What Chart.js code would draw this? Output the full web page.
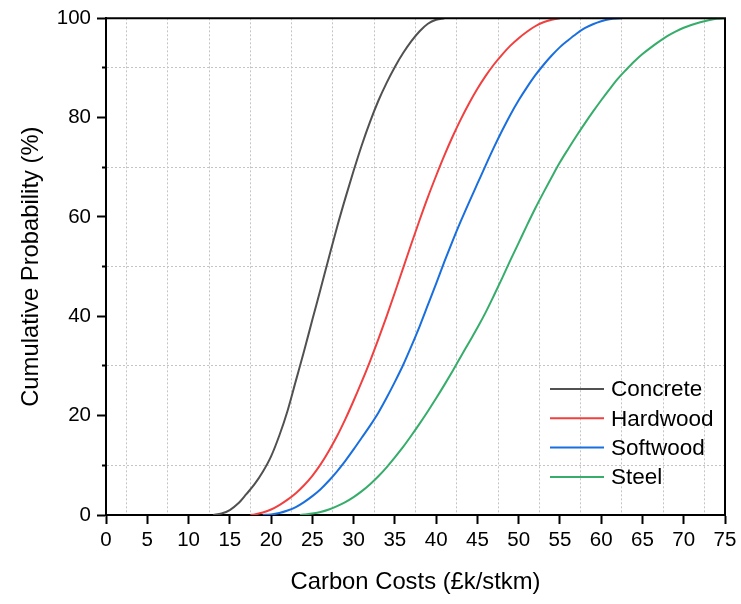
<!DOCTYPE html>
<html>
<head>
<meta charset="utf-8">
<script src="https://cdn.jsdelivr.net/npm/chart.js@4/dist/chart.umd.min.js"></script>
<style>
  html, body { margin: 0; padding: 0; background: #fff; }
  #wrap { width: 741px; height: 604px; }
</style>
</head>
<body>
<div id="wrap"><canvas id="cdfChart" width="741" height="604"></canvas></div>
<script>
// 累積機率曲線 (Carbon Costs, £k/stkm)
const seriesNames = ['Concrete', 'Hardwood', 'Softwood', 'Steel'];
const seriesColors = ['#515151', '#F14040', '#1A6FDF', '#37AD6B'];

const concreteCost = [13, 14, 15, 16, 17, 18, 19, 20, 21, 22, 23, 24, 25, 26, 27, 28, 29, 30, 31, 32, 33, 34, 35, 36, 37, 38, 39, 40, 41];
const concreteProb = [0, 0.3, 1.0, 2.3, 4.2, 6.2, 8.7, 11.8, 16, 21, 27, 33, 39.3, 45.5, 51.8, 58, 63.8, 69.3, 74.5, 79.2, 83.4, 87, 90.2, 93, 95.4, 97.4, 98.9, 99.7, 100];

const hardwoodCost = [17.5, 18, 19, 20, 21, 22, 23, 24, 25, 26, 27, 28, 29, 30, 31, 32, 33, 34, 35, 36, 37, 38, 39, 40, 41, 42, 43, 44, 45, 46, 47, 48, 49, 50, 51, 52, 53, 54, 55];
const hardwoodProb = [0, 0.1, 0.5, 1.1, 2.0, 3.1, 4.4, 6.0, 7.9, 10.2, 12.9, 15.9, 19.3, 23.0, 26.9, 31.0, 35.4, 40.0, 44.8, 49.7, 54.6, 59.4, 64.0, 68.3, 72.4, 76.2, 79.7, 82.9, 85.8, 88.4, 90.7, 92.7, 94.5, 96.0, 97.3, 98.4, 99.2, 99.7, 100];

const softwoodCost = [19, 20, 21, 22, 23, 24, 25, 26, 27, 28, 29, 30, 31, 32, 33, 34, 35, 36, 37, 38, 39, 40, 41, 42, 43, 44, 45, 46, 47, 48, 49, 50, 51, 52, 53, 54, 55, 56, 57, 58, 59, 60, 61, 62.5];
const softwoodProb = [0, 0.1, 0.4, 0.9, 1.6, 2.6, 3.8, 5.2, 6.9, 8.8, 10.9, 13.2, 15.6, 18.0, 20.6, 23.6, 26.8, 30.2, 34.0, 38.0, 42.3, 46.6, 51.0, 55.2, 59.2, 63.0, 66.7, 70.4, 74.0, 77.4, 80.6, 83.5, 86.1, 88.5, 90.6, 92.5, 94.2, 95.6, 96.9, 98.0, 98.8, 99.4, 99.8, 100];

const steelCost = [23.5, 24, 25, 26, 27, 28, 29, 30, 31, 32, 33, 34, 35, 36, 37, 38, 39, 40, 41, 42, 43, 44, 45, 46, 47, 48, 49, 50, 51, 52, 53, 54, 55, 56, 57, 58, 59, 60, 61, 62, 63, 64, 65, 66, 67, 68, 69, 70, 71, 72, 73, 74, 75];
const steelProb = [0, 0.1, 0.3, 0.6, 1.1, 1.8, 2.6, 3.6, 4.8, 6.2, 7.8, 9.6, 11.6, 13.7, 16.0, 18.4, 20.9, 23.5, 26.2, 29.0, 31.9, 34.8, 37.7, 40.8, 44.2, 47.7, 51.3, 54.8, 58.3, 61.7, 64.9, 68.0, 71.0, 73.7, 76.3, 78.8, 81.2, 83.5, 85.7, 87.8, 89.6, 91.3, 92.8, 94.1, 95.3, 96.4, 97.3, 98.1, 98.7, 99.2, 99.6, 99.9, 100];

const xTickLabels = [0, 5, 10, 15, 20, 25, 30, 35, 40, 45, 50, 55, 60, 65, 70, 75];
const yTickLabels = [0, 20, 40, 60, 80, 100];

const costs = [concreteCost, hardwoodCost, softwoodCost, steelCost];
const probs = [concreteProb, hardwoodProb, softwoodProb, steelProb];

const FONT = "'Liberation Sans', Arial, sans-serif";
const GRID = '#c4c4c4';

// 圖表上方與右方的框線
const frameLines = {
    id: 'frameLines',
    afterDraw(chart) {
        const { ctx, chartArea: a } = chart;
        ctx.save();
        ctx.strokeStyle = '#000';
        ctx.lineWidth = 2;
        ctx.beginPath();
        ctx.moveTo(a.left - 1, a.top);
        ctx.lineTo(a.right, a.top);
        ctx.lineTo(a.right, a.bottom + 1);
        ctx.stroke();
        ctx.restore();
    }
};

// 圖內右下角的圖例
const innerLegend = {
    id: 'innerLegend',
    afterDraw(chart) {
        const { ctx, chartArea: a } = chart;
        const x0 = a.right - 175;
        const y0 = a.bottom - 126;
        ctx.save();
        ctx.font = '22.5px ' + FONT;
        ctx.textBaseline = 'middle';
        ctx.fillStyle = '#000';
        chart.data.datasets.forEach((ds, i) => {
            const y = y0 + i * 29.3;
            ctx.strokeStyle = ds.borderColor;
            ctx.lineWidth = 2;
            ctx.beginPath();
            ctx.moveTo(x0, y);
            ctx.lineTo(x0 + 54, y);
            ctx.stroke();
            ctx.fillText(ds.label, x0 + 61, y + 1);
        });
        ctx.restore();
    }
};

const ctx = document.getElementById('cdfChart').getContext('2d');

const chart = new Chart(ctx, {
    type: 'line',
    data: {
        datasets: seriesNames.map((name, i) => ({
            label: name,
            data: costs[i].map((c, j) => ({ x: c, y: probs[i][j] })),
            borderColor: seriesColors[i],
            borderWidth: 2,
            pointRadius: 0,
            fill: false,
            cubicInterpolationMode: 'monotone'
        }))
    },
    options: {
        responsive: false,
        animation: false,
        layout: { padding: { top: 17, right: 16, left: 0, bottom: 0 } },
        plugins: {
            legend: { display: false },
            tooltip: { enabled: false }
        },
        scales: {
            x: {
                type: 'linear',
                min: 0,
                max: 75,
                afterFit: scale => { scale.height = 89; },
                ticks: {
                    stepSize: 2.5,
                    autoSkip: false,
                    maxRotation: 0,
                    padding: 4,
                    color: '#000',
                    font: { family: FONT, size: 20.5 },
                    callback: v => xTickLabels.includes(v) ? String(v) : ''
                },
                grid: {
                    color: c => (c.tick && !xTickLabels.includes(c.tick.value)) ? GRID : 'transparent',
                    lineWidth: 1,
                    tickLength: 9,
                    tickWidth: 2,
                    tickColor: c => (c.tick && xTickLabels.includes(c.tick.value)) ? '#000' : 'transparent'
                },
                border: { display: true, color: '#000', width: 2, dash: [2, 2] },
                title: {
                    display: true,
                    text: 'Carbon Costs (£k/stkm)',
                    color: '#000',
                    font: { family: FONT, size: 23.8 },
                    padding: { top: 0, bottom: 7 }
                }
            },
            y: {
                min: 0,
                max: 100,
                afterFit: scale => { scale.width = 106; },
                ticks: {
                    stepSize: 10,
                    autoSkip: false,
                    padding: 6,
                    color: '#000',
                    font: { family: FONT, size: 20.5 },
                    callback: v => yTickLabels.includes(v) ? String(v) : ''
                },
                grid: {
                    color: c => (c.tick && !yTickLabels.includes(c.tick.value)) ? GRID : 'transparent',
                    lineWidth: 1,
                    tickLength: 9,
                    tickWidth: 2,
                    tickColor: '#000',
                    // 次刻度只畫靠近軸線的一小段
                    tickBorderDash: c => (c.tick && !yTickLabels.includes(c.tick.value)) ? [4, 5] : [],
                    tickBorderDashOffset: c => (c.tick && !yTickLabels.includes(c.tick.value)) ? 4 : 0
                },
                border: { display: true, color: '#000', width: 2, dash: [2, 2] },
                title: {
                    display: true,
                    text: 'Cumulative Probability (%)',
                    color: '#000',
                    font: { family: FONT, size: 23.8 },
                    padding: { top: 17, bottom: 0 }
                }
            }
        }
    },
    plugins: [frameLines, innerLegend]
});
</script>
</body>
</html>
